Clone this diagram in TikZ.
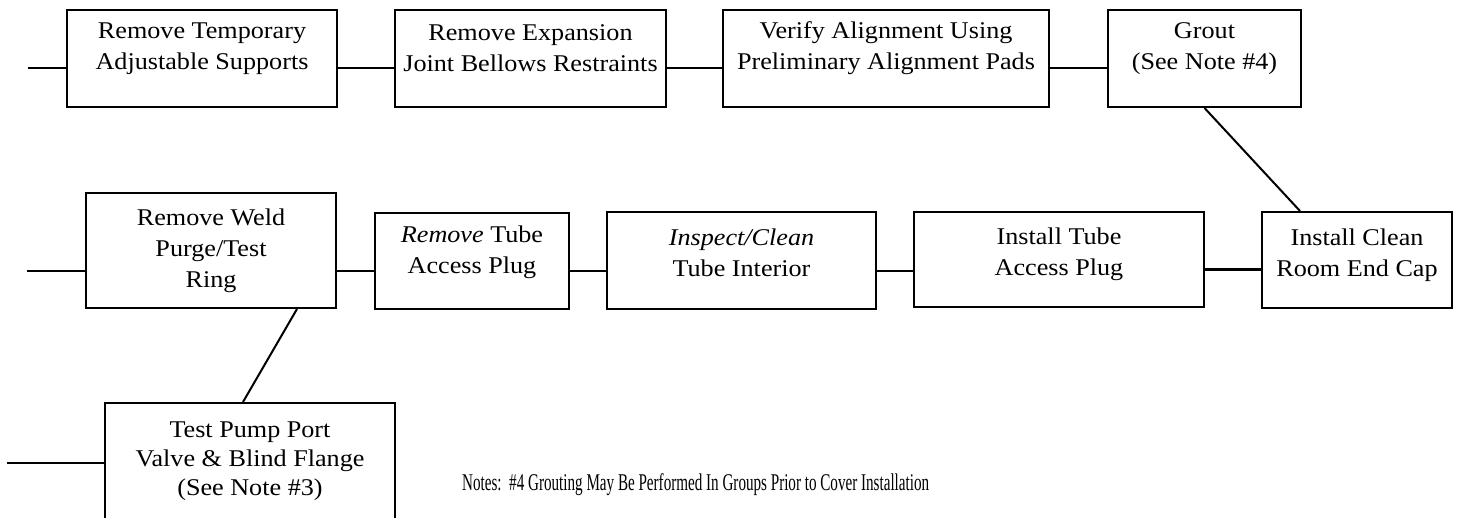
\documentclass[tikz,border=0pt]{standalone}
\usepackage{fontspec}
\setmainfont{Liberation Serif}[FakeStretch=1.09]
\newfontfamily\notefont{Liberation Serif}[FakeStretch=0.63]
\begin{document}
\begin{tikzpicture}[x=1pt,y=-1pt,
  box/.style={draw, line width=2pt, inner sep=0pt},
  txt/.style={align=center, inner sep=0pt, font=\fontsize{24}{31}\selectfont},
  conn/.style={line width=2pt}]
\clip (0,0) rectangle (1460,518);
\fill[white] (0,0) rectangle (1460,518);
% top row
\node[box, minimum width=270pt, minimum height=97pt] (b1) at (202,58.5) {};
\node[box, minimum width=271pt, minimum height=97pt] (b2) at (530.5,58.5) {};
\node[box, minimum width=326pt, minimum height=97pt] (b3) at (886,58.5) {};
\node[box, minimum width=193pt, minimum height=97pt] (b4) at (1204.5,58.5) {};
\node[txt] (t1) at ([yshift=10pt]b1.center) {Remove Temporary\\Adjustable Supports};
\node[txt] (t2) at ([yshift=10pt]b2.center) {Remove Expansion\\Joint Bellows Restraints};
\node[txt] (t3) at ([yshift=10pt]b3.center) {Verify Alignment Using\\Preliminary Alignment Pads};
\node[txt] (t4) at ([yshift=10pt]b4.center) {Grout\\(See Note \#4)};
% middle row
\node[box, minimum width=250pt, minimum height=115pt] (b5) at (211,250.5) {};
\node[box, minimum width=194pt, minimum height=96pt] (b6) at (472,261) {};
\node[box, minimum width=269pt, minimum height=97pt] (b7) at (741.5,260.5) {};
\node[box, minimum width=290pt, minimum height=95pt] (b8) at (1059,259.5) {};
\node[box, minimum width=190pt, minimum height=96pt] (b9) at (1357,260) {};
\node[txt] (t5) at (b5.center) {Remove Weld\\Purge/Test\\Ring};
\node[txt] (t6) at ([yshift=9pt]b6.center) {\textit{Remove} Tube\\Access Plug};
\node[txt] (t7) at ([yshift=8pt]b7.center) {\textit{Inspect/Clean}\\Tube Interior};
\node[txt] (t8) at ([yshift=5pt]b8.center) {Install Tube\\Access Plug};
\node[txt] (t9) at ([yshift=5pt]b9.center) {Install Clean\\Room End Cap};
% bottom
\node[box, minimum width=290pt, minimum height=137pt] (b10) at (250,471.5) {};
\node[txt, font=\fontsize{24}{29}\selectfont] (t10) at ([yshift=10pt]b10.center) {Test Pump Port\\Valve \& Blind Flange\\(See Note \#3)};
\node[anchor=west, inner sep=0pt, font=\notefont\fontsize{24}{27}\selectfont] (note) at (462,485) {Notes:\ \ \#4 Grouting May Be Performed In Groups Prior to Cover Installation};
% connectors
\coordinate (s1) at (28,68);
\coordinate (s2) at (27,271);
\coordinate (s3) at (7,463);
\draw[conn] (s1) -- (b1.west |- s1);
\draw[conn] ([yshift=-9.5pt]b1.east) -- ([yshift=-9.5pt]b2.west);
\draw[conn] ([yshift=-9.5pt]b2.east) -- ([yshift=-9.5pt]b3.west);
\draw[conn] ([yshift=-9.5pt]b3.east) -- ([yshift=-9.5pt]b4.west);
\draw[conn] (b4.south) -- ([xshift=-57pt]b9.north);
\draw[conn] (s2) -- (b5.west |- s2);
\draw[conn] ([yshift=-20.5pt]b5.east) -- ([yshift=-10pt]b6.west);
\draw[conn] ([yshift=-10pt]b6.east) -- ([yshift=-10.5pt]b7.west);
\draw[conn] ([yshift=-10.5pt]b7.east) -- ([yshift=-11.5pt]b8.west);
\draw[line width=3pt] ([yshift=-10pt]b8.east) -- ([yshift=-9.5pt]b9.west);
\draw[conn] ([xshift=86pt]b5.south) -- ([xshift=-7pt]b10.north);
\draw[conn] (s3) -- (b10.west |- s3);
\end{tikzpicture}
\end{document}
